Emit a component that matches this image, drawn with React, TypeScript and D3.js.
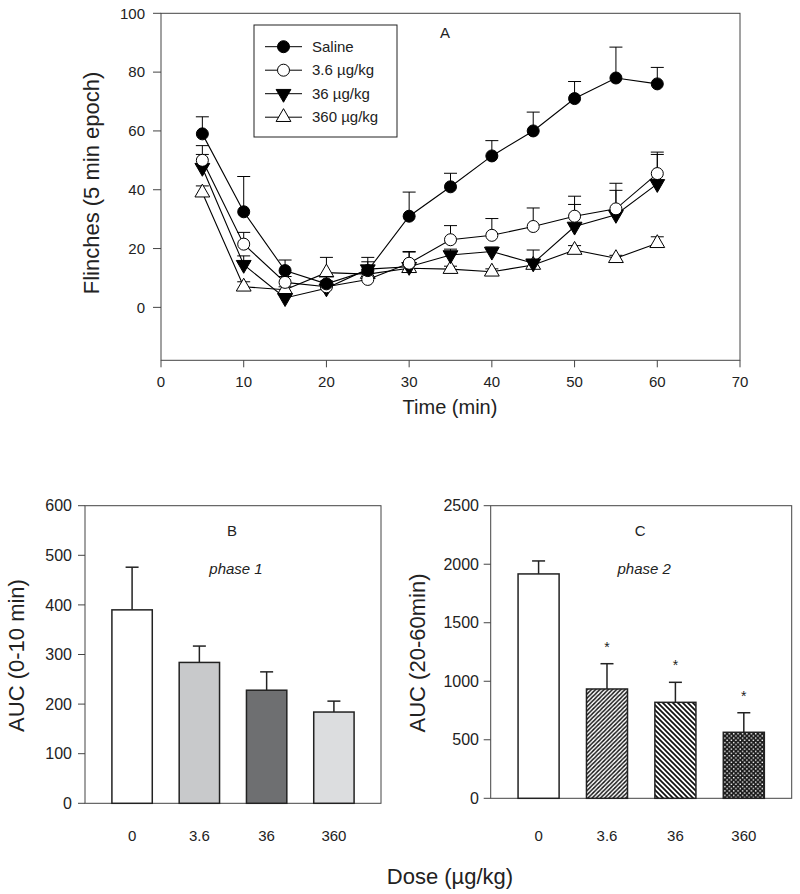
import * as d3 from 'd3';

// time course (panel A)
const times = [5, 10, 15, 20, 25, 30, 35, 40, 45, 50, 55, 60];
const saline = [59, 32.5, 12.5, 8, 12.5, 31, 41, 51.5, 60, 71, 78, 76];
const salineErr = [5.8, 12, 3.6, 2.5, 3, 8.2, 4.6, 5.2, 6.4, 5.8, 10.5, 5.6];
const lowDose = [50, 21.5, 8.5, 7, 9.5, 15, 23, 24.5, 27.5, 31, 33.5, 45.5];
const lowErr = [5, 4, 2, 2, 2, 4, 4.8, 5.7, 6.3, 6.8, 8.7, 7.3];
const midDose = [47.5, 14.5, 3.2, 6.5, 13, 13.8, 17.8, 19, 15, 27.5, 31.5, 42];
const midErr = [4.5, 3, 1.5, 2, 4, 5, 2, 1.5, 4.5, 7.5, 8.3, 10];
const highDose = [39, 7, 6, 11.8, 11.3, 13.3, 13, 12.1, 14.4, 19.5, 16.7, 21.8];
const highErr = [2.3, 1.7, 1, 5.2, 1.5, 1.5, 1, 1, 1.5, 1.5, 1, 2.2];

const seriesNames = ['Saline', '3.6 \u00b5g/kg', '36 \u00b5g/kg', '360 \u00b5g/kg'];
const xTicksA = [0, 10, 20, 30, 40, 50, 60, 70];
const yTicksA = [0, 20, 40, 60, 80, 100];

// AUC panels
const doses = ['0', '3.6', '36', '360'];
const phase1 = [390, 284, 228, 184];
const phase1Err = [86, 33, 37, 22];
const phase2 = [1917, 934, 820, 564];
const phase2Err = [111, 216, 171, 167];
const phase2Sig = [false, true, true, true];

const FONT = '"Liberation Sans", Arial, sans-serif';
const FRAME = '#444';
const INK = '#222';

const series = [
  { name: seriesNames[0], values: saline, err: salineErr, shape: 'circle', fill: '#000' },
  { name: seriesNames[1], values: lowDose, err: lowErr, shape: 'circle', fill: '#fff' },
  { name: seriesNames[2], values: midDose, err: midErr, shape: 'down', fill: '#000' },
  { name: seriesNames[3], values: highDose, err: highErr, shape: 'up', fill: '#fff' },
];

const triPath = d3.symbol(d3.symbolTriangle, 95)() as string;

function Marker({ shape, fill, x, y }: { shape: string; fill: string; x: number; y: number }) {
  if (shape === 'circle') return <circle cx={x} cy={y} r={6} fill={fill} stroke="#000" strokeWidth={1} />;
  const rot = shape === 'down' ? 180 : 0;
  return <path d={triPath} transform={`translate(${x},${y}) rotate(${rot})`} fill={fill} stroke="#000" strokeWidth={1} />;
}

function TimeCourse() {
  const x = d3.scaleLinear().domain([0, 70]).range([161, 740]);
  const y = d3.scaleLinear().domain([-18, 100]).range([360.3, 13.3]);
  const line = d3.line<number>().x((_, i) => x(times[i])).y(d => y(d));
  // draw back to front so saline ends on top
  const order = [3, 2, 1, 0];
  return (
    <g>
      <rect x={x(0)} y={y(100)} width={x(70) - x(0)} height={y(-18) - y(100)} fill="none" stroke={FRAME} />
      {yTicksA.map(t => (
        <g key={t}>
          <line x1={x(0) - 8} x2={x(0)} y1={y(t)} y2={y(t)} stroke={FRAME} />
          <text x={145} y={y(t)} dy="0.35em" textAnchor="end" fontSize={15}>{t}</text>
        </g>
      ))}
      {xTicksA.map(t => (
        <g key={t}>
          <line x1={x(t)} x2={x(t)} y1={y(-18)} y2={y(-18) + 7} stroke={FRAME} />
          <text x={x(t)} y={387} textAnchor="middle" fontSize={15}>{t}</text>
        </g>
      ))}
      <text x={450} y={414} textAnchor="middle" fontSize={20}>Time (min)</text>
      <text transform={`translate(91,183) rotate(-90)`} dy="0.35em" textAnchor="middle" fontSize={22}>Flinches (5 min epoch)</text>
      <text x={445} y={38} textAnchor="middle" fontSize={15}>A</text>
      {order.map(k => {
        const s = series[k];
        return (
          <g key={s.name}>
            {s.values.map((v, i) => (
              <g key={i} stroke="#000" strokeWidth={1}>
                <line x1={x(times[i])} x2={x(times[i])} y1={y(v)} y2={y(v + s.err[i])} />
                <line x1={x(times[i]) - 6.5} x2={x(times[i]) + 6.5} y1={y(v + s.err[i])} y2={y(v + s.err[i])} />
              </g>
            ))}
            <path d={line(s.values) as string} fill="none" stroke="#000" strokeWidth={1.1} />
            {s.values.map((v, i) => (
              <Marker key={i} shape={s.shape} fill={s.fill} x={x(times[i])} y={y(v)} />
            ))}
          </g>
        );
      })}
      <rect x={254} y={25} width={143} height={112} fill="#fff" stroke="#222" />
      {series.map((s, i) => {
        const ly = 46.7 + i * 23.5;
        return (
          <g key={s.name}>
            <line x1={265} x2={302} y1={ly} y2={ly} stroke="#000" />
            <Marker shape={s.shape} fill={s.fill} x={283.5} y={ly} />
            <text x={312} y={ly} dy="0.35em" fontSize={15}>{s.name}</text>
          </g>
        );
      })}
    </g>
  );
}

type BarProps = {
  x0: number; x1: number; yTop: number; yBot: number; max: number; step: number;
  values: number[]; errs: number[]; fills: string[]; label: string; letter: string; phase: string;
  labelX: number; tickEnd: number; sig?: boolean[];
};

function BarPanel(p: BarProps) {
  const x = d3.scaleBand().domain(doses).range([p.x0, p.x1]).paddingInner(0.4).paddingOuter(0.4);
  const y = d3.scaleLinear().domain([0, p.max]).range([p.yBot, p.yTop]);
  const ticks = d3.range(0, p.max + 1, p.step);
  const mid = (p.x0 + p.x1) / 2;
  return (
    <g>
      <rect x={p.x0} y={p.yTop} width={p.x1 - p.x0} height={p.yBot - p.yTop} fill="none" stroke={FRAME} />
      {ticks.map(t => (
        <g key={t}>
          <line x1={p.x0 - 7} x2={p.x0} y1={y(t)} y2={y(t)} stroke={FRAME} />
          <text x={p.tickEnd} y={y(t)} dy="0.35em" textAnchor="end" fontSize={16}>{t}</text>
        </g>
      ))}
      {doses.map((d, i) => {
        const bx = x(d) as number;
        const cx = bx + x.bandwidth() / 2;
        const top = y(p.values[i] + p.errs[i]);
        return (
          <g key={d}>
            <line x1={cx} x2={cx} y1={y(p.values[i])} y2={top} stroke="#222" strokeWidth={1.5} />
            <line x1={cx - 6.5} x2={cx + 6.5} y1={top} y2={top} stroke="#222" strokeWidth={1.5} />
            <rect x={bx} y={y(p.values[i])} width={x.bandwidth()} height={y(0) - y(p.values[i])} fill={p.fills[i]} stroke="#222" strokeWidth={1.5} />
            {p.sig && p.sig[i] && (
              <text x={cx} y={top - 12} textAnchor="middle" fontSize={14}>*</text>
            )}
            <text x={cx} y={841} textAnchor="middle" fontSize={15}>{d}</text>
          </g>
        );
      })}
      <text x={mid - 1} y={p.yTop + 30} textAnchor="middle" fontSize={15}>{p.letter}</text>
      <text x={mid + 3} y={p.yTop + 68} textAnchor="middle" fontSize={15} fontStyle="italic">{p.phase}</text>
      <text transform={`translate(${p.labelX},${(p.yTop + p.yBot) / 2 + 1}) rotate(-90)`} dy="0.35em" textAnchor="middle" fontSize={22}>{p.label}</text>
    </g>
  );
}

export default function App() {
  return (
    <svg width={800} height={894} style={{ position: 'absolute', left: 0, top: 0, background: '#fff' }} fontFamily={FONT} fill={INK}>
      <defs>
        <pattern id="hatchUp" patternUnits="userSpaceOnUse" width={4.2} height={4.2}>
          <rect width={4.2} height={4.2} fill="#fff" />
          <path d="M-1,1 L1,-1 M0,4.2 L4.2,0 M3.2,5.2 L5.2,3.2" stroke="#111" strokeWidth={1.4} />
        </pattern>
        <pattern id="hatchDown" patternUnits="userSpaceOnUse" width={5} height={5}>
          <rect width={5} height={5} fill="#fff" />
          <path d="M-1,-1 L6,6 M-1,4 L1,6 M4,-1 L6,1" stroke="#111" strokeWidth={1.7} />
        </pattern>
        <pattern id="cross" patternUnits="userSpaceOnUse" width={4.4} height={4.4}>
          <rect width={4.4} height={4.4} fill="#1a1a1a" />
          <rect x={0.4} y={0.4} width={1.4} height={1.4} fill="#fff" />
          <rect x={2.6} y={2.6} width={1.4} height={1.4} fill="#fff" />
        </pattern>
      </defs>
      <TimeCourse />
      <BarPanel
        x0={85} x1={381} yTop={505.7} yBot={803.3} max={600} step={100}
        values={phase1} errs={phase1Err} fills={['#ffffff', '#c8c9cb', '#6e6f71', '#dcdddf']}
        label="AUC (0-10 min)" letter="B" phase="phase 1" labelX={16} tickEnd={72}
      />
      <BarPanel
        x0={490.7} x1={791.7} yTop={505.7} yBot={798.3} max={2500} step={500}
        values={phase2} errs={phase2Err} fills={['#ffffff', 'url(#hatchUp)', 'url(#hatchDown)', 'url(#cross)']}
        label="AUC (20-60min)" letter="C" phase="phase 2" labelX={417} tickEnd={479} sig={phase2Sig}
      />
      <text x={450} y={884} textAnchor="middle" fontSize={22}>{'Dose (\u00b5g/kg)'}</text>
    </svg>
  );
}
